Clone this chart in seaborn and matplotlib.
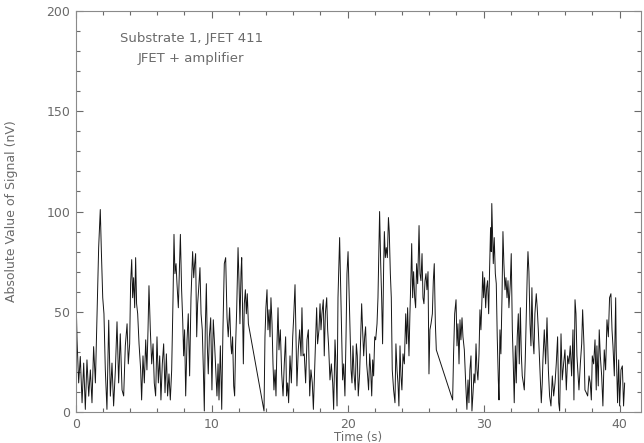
import matplotlib
matplotlib.use("Agg")
import matplotlib.pyplot as plt
from matplotlib.ticker import MultipleLocator
import seaborn as sns
import pandas as pd

time_s = [
    0.00, 0.05, 0.10, 0.22, 0.34, 0.47, 0.59, 0.71, 0.83, 0.96, 1.08, 1.20, 1.32, 1.45, 1.57, 1.69, 1.81, 1.89, 1.99, 2.08,
    2.18, 2.30, 2.43, 2.55, 2.67, 2.79, 2.92, 3.04, 3.16, 3.28, 3.41, 3.53, 3.65, 3.78,
    3.87, 3.97, 4.04, 4.12, 4.19, 4.26, 4.34, 4.41, 4.48, 4.56, 4.66, 4.78, 4.85, 4.95, 5.05, 5.15, 5.24, 5.32, 5.39, 5.49,
    5.59, 5.69, 5.78, 5.88, 5.98, 6.08, 6.18, 6.27, 6.37, 6.47, 6.57, 6.67, 6.76, 6.86, 6.96, 7.06, 7.16, 7.23, 7.30, 7.38,
    7.45, 7.55,
    7.60, 7.70, 7.79, 7.87, 7.94, 8.01, 8.09, 8.19, 8.28, 8.38, 8.48, 8.60, 8.68, 8.75, 8.82, 8.90, 8.97, 9.04, 9.14, 9.22,
    9.31, 9.39, 9.46, 9.53, 9.61, 9.68, 9.75, 9.83, 9.93, 10.02, 10.12, 10.22, 10.32, 10.39, 10.47, 10.54, 10.64, 10.74,
    10.83, 10.93, 11.03, 11.13, 11.22, 11.32,
    11.42, 11.47, 11.54, 11.62, 11.69, 11.76, 11.84, 11.94, 12.01, 12.08, 12.16, 12.21, 12.26, 12.33, 12.40, 12.48, 12.55,
    12.62, 12.70, 13.85, 13.92, 13.99, 14.07, 14.14, 14.22, 14.29, 14.36, 14.44, 14.51, 14.58, 14.66, 14.73, 14.80, 14.88,
    14.95, 15.05, 15.15, 15.25,
    15.34, 15.44, 15.51, 15.59, 15.66, 15.76, 15.86, 15.96, 16.03, 16.13, 16.20, 16.27, 16.37, 16.47, 16.57, 16.64, 16.72,
    16.81, 16.91, 17.01, 17.11, 17.21, 17.30, 17.40, 17.48, 17.57, 17.65, 17.72, 17.79, 17.89, 17.97, 18.04, 18.11, 18.21,
    18.28, 18.36, 18.46, 18.53, 18.60, 18.70, 18.80, 18.90, 18.97, 19.07,
    19.12, 19.22, 19.29, 19.36, 19.41, 19.49, 19.56, 19.63, 19.71, 19.80, 19.88, 19.95, 20.03, 20.10, 20.17, 20.25, 20.32,
    20.39, 20.47, 20.56, 20.64, 20.71, 20.78, 20.88, 20.96, 21.03, 21.10, 21.18, 21.25, 21.32, 21.40, 21.47, 21.54, 21.62,
    21.69, 21.77, 21.84, 21.91, 21.99, 22.06, 22.16, 22.23, 22.30, 22.35, 22.43, 22.50, 22.57, 22.65, 22.70, 22.77, 22.84,
    22.92, 23.00, 23.06, 23.14, 23.21, 23.28, 23.38, 23.48, 23.55, 23.63, 23.70, 23.77, 23.85, 23.92, 23.99, 24.07, 24.17,
    24.27, 24.34, 24.41, 24.51, 24.58, 24.66, 24.71, 24.78, 24.85, 24.93, 25.00, 25.07, 25.15, 25.25, 25.32, 25.39, 25.47,
    25.54, 25.61, 25.69, 25.76, 25.83, 25.91, 25.98, 26.05, 26.13, 26.23, 26.30, 26.37, 26.45, 26.52,
    27.72, 27.79, 27.87, 27.97, 28.04, 28.11, 28.19, 28.26, 28.33, 28.41, 28.48, 28.58, 28.68, 28.77, 28.85, 28.92, 28.99,
    29.07, 29.14, 29.22, 29.29, 29.36, 29.44, 29.51, 29.58, 29.66, 29.73, 29.80, 29.88, 29.93, 30.00, 30.07, 30.15, 30.22,
    30.29, 30.37, 30.44, 30.51,
    30.56, 30.60, 30.71, 30.78, 30.86, 30.93, 31.00, 31.08, 31.13, 31.20, 31.27, 31.35, 31.42, 31.49, 31.57, 31.64, 31.72,
    31.79, 31.86, 31.96, 32.03, 32.11, 32.18, 32.25, 32.33, 32.40, 32.47, 32.55, 32.62, 32.70, 32.77, 32.84, 32.92, 32.99,
    33.06, 33.14, 33.21, 33.26, 33.33, 33.41, 33.48, 33.55, 33.63, 33.70, 33.77, 33.87, 33.94, 34.02, 34.09, 34.17, 34.24,
    34.31,
    34.36, 34.46, 34.56, 34.66, 34.76, 34.85, 34.95, 35.05, 35.15, 35.25, 35.34, 35.44, 35.52, 35.59, 35.69, 35.78, 35.88,
    35.98, 36.08, 36.18, 36.27, 36.37, 36.47, 36.57, 36.64, 36.72, 36.79, 36.86, 36.94, 37.01, 37.11, 37.21, 37.28, 37.38,
    37.45, 37.55, 37.65, 37.75, 37.84, 37.92, 37.99, 38.09, 38.19,
    38.28, 38.33, 38.43, 38.50, 38.58, 38.68, 38.77, 38.87, 38.97, 39.07, 39.17, 39.26, 39.36, 39.44, 39.51, 39.61, 39.71,
    39.75, 39.85, 39.93, 40.00, 40.10, 40.20, 40.29, 40.37,
]

signal_nv = [
    66, 50, 36, 14.5, 27.7, 4.6, 24.4, 1.3, 26, 7.9, 21, 4.6, 32.6, 14.5, 49, 82, 101, 80, 57, 49,
    21, 1.3, 45.8, 7.9, 24.4, 3, 21, 45, 14.5, 39, 11, 8, 33, 44,
    24, 34, 64, 76, 57, 67, 52, 77, 54, 49, 34, 21, 6, 28, 14.5, 36, 21, 41, 63, 41,
    24, 34, 14.5, 8, 37.5, 14.5, 28, 6, 24, 34, 9.6, 29, 8, 19, 6, 21, 57, 88.6, 69, 74,
    64, 52,
    64, 88.6, 61, 46, 28, 41, 8, 36, 49, 18, 57, 80, 67, 74, 79, 37.5, 54, 61, 72, 49,
    41, 21, 0.5, 41, 64, 33, 19, 37.5, 47, 11, 46, 33, 18, 8, 24, 6, 33, 1.3,
    41, 74, 77, 47, 37.5, 52,
    33, 29, 37.5, 13, 8, 33, 51, 82, 65.5, 44, 70, 77, 57, 24, 54, 61, 49,
    59, 44, 0.5, 37.5, 52, 61, 41, 51, 37.5, 57, 44, 24, 11, 21, 8, 33, 52,
    31, 41, 19, 8,
    24, 37.5, 8, 14.5, 4.6, 28, 14.5, 37.5, 47, 63.5, 37.5, 13, 31, 41, 28, 52, 28,
    29, 14.5, 36, 41, 8, 21, 14.5, 1.3, 21, 37.5, 52, 34, 41, 54, 41, 49, 56,
    28, 49, 57, 41, 33, 16, 24, 14.5, 1.3, 36,
    28, 3, 57, 74, 87, 61, 37.5, 16, 24, 8, 37.5, 69, 80, 61, 44, 21, 14.5,
    33, 19, 11, 34, 28, 8, 19, 37.5, 54, 41, 28, 37.5, 42.5, 24, 18, 11, 29,
    21, 8, 26, 18, 37.5, 36, 44, 57, 82, 100, 74, 57, 34, 74, 90, 77, 82,
    77, 97, 90, 69, 57, 21, 11, 4.6, 34, 21, 14.5, 3, 33, 18, 11, 29, 24,
    49, 34, 52, 28, 49, 69, 84, 57, 70, 57, 52, 74, 64, 93, 69, 65.5, 79,
    57, 54, 65.5, 69, 61, 70, 19, 41, 44, 49, 65.5, 74, 44, 31,
    6, 29, 49, 56, 33, 44, 24, 46, 36, 47, 37.5, 31, 14.5, 1.3, 16, 4.6, 21,
    28, 0.5, 9.6, 19, 14.5, 34, 21, 16, 29, 51, 41, 57, 70, 57, 67, 52, 62,
    65.5, 49, 72, 92,
    80, 104, 74, 87, 69, 64, 37.5, 16, 6, 41, 29, 57, 90, 74, 61, 67, 57,
    65.5, 52, 64, 79, 41, 24, 4.6, 33, 14.5, 37.5, 49, 24, 52, 29, 18, 14.5, 11,
    26, 49, 70, 80, 70, 44, 33, 62, 36, 29, 49, 59, 52, 41, 29, 14.5, 4.6,
    14.5,
    26, 41, 24, 47, 21, 8, 3, 18, 8, 14.5, 24, 37.5, 4.6, 0.5, 39, 16, 24,
    31, 11, 28, 24, 33, 18, 41, 6, 56, 49, 28, 19, 11, 24, 34, 51, 33,
    11, 9.6, 8, 18, 14.5, 6, 28, 24, 36,
    11, 33, 13, 41, 28, 18, 3, 31, 21, 46, 37.5, 57, 59, 41, 33, 18, 57,
    31, 4.6, 26, 3, 21, 23, 3, 14.5,
]

x_ticks = [0, 10, 20, 30, 40]
y_ticks = [0, 50, 100, 150, 200]
label_lines = ["Substrate 1, JFET 411", "JFET + amplifier"]

df = pd.DataFrame({"Time (s)": time_s, "Signal": signal_nv})

sns.set_style("white")
plt.rcParams["font.family"] = ["DejaVu Sans"]

grey = "#6a6a6a"
fig = plt.figure(figsize=(6.44, 4.43), dpi=100)
ax = fig.add_axes([0.1175, 0.070, 0.8778, 0.905])

sns.lineplot(data=df, x="Time (s)", y="Signal", sort=False, estimator=None,
             color="#151515", linewidth=0.7, ax=ax)

ax.set_xlim(0, 41.57)
ax.set_ylim(0, 200)
ax.set_xticks(x_ticks)
ax.set_yticks(y_ticks)
ax.xaxis.set_minor_locator(MultipleLocator(2))
ax.yaxis.set_minor_locator(MultipleLocator(10))
ax.tick_params(which="both", direction="in", top=True, right=True, bottom=True, left=True,
               colors=grey, labelcolor=grey, labelsize=9, width=0.8)
ax.tick_params(which="major", length=5, pad=4)
ax.tick_params(which="minor", length=3)
for s in ax.spines.values():
    s.set_visible(True)
    s.set_color("#8a8a8a")
    s.set_linewidth(0.8)

ax.set_xlabel("Time (s)", color=grey, fontsize=8.5, labelpad=0)
ax.set_ylabel("Absolute Value of Signal (nV)", color=grey, fontsize=9, labelpad=20)

ax.text(3.26, 186.5, label_lines[0], color=grey, fontsize=9.5, va="center", ha="left")
ax.text(4.58, 176.5, label_lines[1], color=grey, fontsize=9.5, va="center", ha="left")

fig.savefig("out.png", dpi=100)
